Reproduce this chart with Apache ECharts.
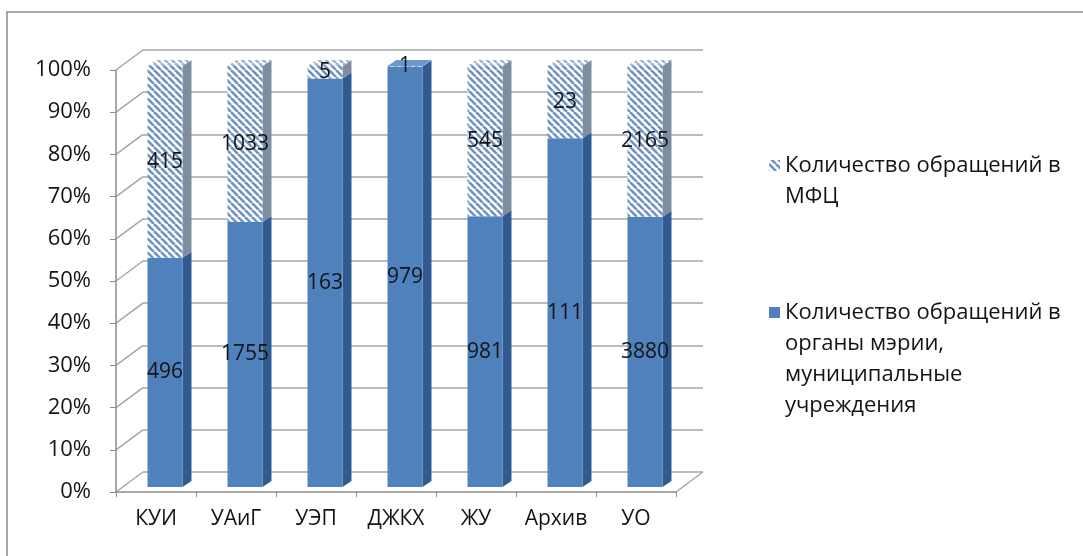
<!DOCTYPE html>
<html>
<head>
<meta charset="utf-8">
<script src="https://cdn.jsdelivr.net/npm/echarts@6/dist/echarts.min.js"></script>
<style>
  html, body { margin: 0; padding: 0; background: #fff; }
  #main { width: 1083px; height: 556px; }
</style>
</head>
<body>
<div id="main"></div>
<script>
var categories = ['КУИ', 'УАиГ', 'УЭП', 'ДЖКХ', 'ЖУ', 'Архив', 'УО'];
var mfcValues = [415, 1033, 5, 1, 545, 23, 2165];
var meriaValues = [496, 1755, 163, 979, 981, 111, 3880];
var yTicks = [0, 10, 20, 30, 40, 50, 60, 70, 80, 90, 100];

var nameMfc = 'Количество обращений в МФЦ';
var nameMeria = 'Количество обращений в органы мэрии, муниципальные учреждения';

// доли в процентах (100% стек)
var meriaPct = meriaValues.map(function (v, i) { return v / (v + mfcValues[i]) * 100; });
var mfcPct = mfcValues.map(function (v, i) { return v / (v + meriaValues[i]) * 100; });

// штриховка для МФЦ
function hatch(lineColor) {
    var c = document.createElement('canvas');
    c.width = 7; c.height = 7;
    var ctx = c.getContext('2d');
    ctx.fillStyle = '#ffffff';
    ctx.fillRect(0, 0, 7, 7);
    ctx.strokeStyle = lineColor;
    ctx.lineWidth = 2.6;
    [-7, 0, 7].forEach(function (o) {
        ctx.beginPath();
        ctx.moveTo(o, 0);
        ctx.lineTo(o + 7, 7);
        ctx.stroke();
    });
    return c;
}
var hatchFront = { image: hatch('#6f93c0'), repeat: 'repeat' };
var hatchTop = { image: hatch('#9db3cf'), repeat: 'repeat' };

var BAR_W = 35, DEPTH_X = 9, DEPTH_Y = -6;
var FRONT_LEFT = 116, FRONT_RIGHT = 676, BACK_DX = 27, BACK_DY = -20;
var textColor = '#141414';
var fontFam = '"Open Sans", "Noto Sans", sans-serif';
var LINE_H = 31;

// значок легенды: квадрат на уровне первой строки текста
function legendIcon(lines) {
    var h = lines * LINE_H;
    var c = LINE_H / 2;
    return 'path://M0,0L0.01,0M0,' + h + 'L0.01,' + h +
        'M0,' + (c - 5.5) + 'L11,' + (c - 5.5) + 'L11,' + (c + 5.5) + 'L0,' + (c + 5.5) + 'Z';
}

function renderSide(params, api) {
    var i = api.value(0);
    var low = api.value(1);
    var p0 = api.coord([i, 0]);
    var p1 = api.coord([i, low]);
    var p2 = api.coord([i, 100]);
    var hw = BAR_W / 2;
    var xr = p0[0] + hw;
    var xl = p0[0] - hw;
    var topColor = mfcPct[i] < 0.5 ? '#6d98cf' : hatchTop;
    return {
        type: 'group',
        children: [
            { type: 'polygon', shape: { points: [[xr, p1[1]], [xr + DEPTH_X, p1[1] + DEPTH_Y], [xr + DEPTH_X, p0[1] + DEPTH_Y], [xr, p0[1]]] },
              style: { fill: '#2f5b92' } },
            { type: 'polygon', shape: { points: [[xr, p2[1]], [xr + DEPTH_X, p2[1] + DEPTH_Y], [xr + DEPTH_X, p1[1] + DEPTH_Y], [xr, p1[1]]] },
              style: { fill: '#7f8da0' } },
            { type: 'polygon', shape: { points: [[xl, p2[1]], [xl + DEPTH_X, p2[1] + DEPTH_Y], [xr + DEPTH_X, p2[1] + DEPTH_Y], [xr, p2[1]]] },
              style: { fill: topColor } }
        ]
    };
}

var option = {
    animation: false,
    backgroundColor: '#ffffff',
    textStyle: { fontFamily: fontFam },
    grid: [
        // задняя стенка
        { left: FRONT_LEFT + BACK_DX, right: 1083 - FRONT_RIGHT - BACK_DX, top: 50, bottom: 84 },
        // передние оси
        { left: FRONT_LEFT, right: 1083 - FRONT_RIGHT, top: 70, bottom: 64 },
        // столбцы
        { left: 125, right: 398, top: 66, bottom: 69 }
    ],
    xAxis: [
        { gridIndex: 0, type: 'category', data: categories, show: false },
        { gridIndex: 1, type: 'category', data: categories,
          axisLine: { lineStyle: { color: '#8c8c8c', width: 1.5 } },
          axisTick: { show: true, length: 5, lineStyle: { color: '#8c8c8c' } },
          axisLabel: { interval: 0, color: textColor, fontSize: 21, margin: 17, fontFamily: fontFam } },
        { gridIndex: 2, type: 'category', data: categories, show: false }
    ],
    yAxis: [
        { gridIndex: 0, type: 'value', min: 0, max: 100, interval: 10,
          axisLine: { show: false }, axisTick: { show: false }, axisLabel: { show: false },
          splitLine: { lineStyle: { color: '#a6a6a6', width: 1.5 } } },
        { gridIndex: 1, type: 'value', min: 0, max: 100, interval: 10,
          axisLine: { show: true, lineStyle: { color: '#8c8c8c', width: 1.5 } },
          axisTick: { show: true, length: 6, lineStyle: { color: '#8c8c8c' } },
          splitLine: { show: false },
          axisLabel: { color: textColor, fontSize: 22, margin: 25, formatter: '{value}%', fontFamily: fontFam } },
        { gridIndex: 2, type: 'value', min: 0, max: 100, show: false, splitLine: { show: false } }
    ],
    legend: [
        { left: 769, top: 150, orient: 'vertical', padding: 0, itemWidth: 11, itemHeight: 2 * LINE_H,
          icon: legendIcon(2),
          data: [nameMfc],
          formatter: function () { return 'Количество обращений в\nМФЦ'; },
          textStyle: { color: textColor, fontSize: 22, lineHeight: LINE_H, fontFamily: fontFam } },
        { left: 769, top: 297, orient: 'vertical', padding: 0, itemWidth: 11, itemHeight: 4 * LINE_H,
          icon: legendIcon(4),
          data: [nameMeria],
          formatter: function () { return 'Количество обращений в\nорганы мэрии,\nмуниципальные\nучреждения'; },
          textStyle: { color: textColor, fontSize: 22, lineHeight: LINE_H, fontFamily: fontFam } }
    ],
    series: [
        { name: nameMeria, type: 'bar', stack: 'total', xAxisIndex: 2, yAxisIndex: 2, barWidth: BAR_W, z: 3,
          itemStyle: { color: '#4f81bd' },
          label: { show: true, position: 'inside', color: textColor, fontSize: 21, fontFamily: fontFam,
                   formatter: function (p) { return meriaValues[p.dataIndex]; } },
          data: meriaPct },
        { name: nameMfc, type: 'bar', stack: 'total', xAxisIndex: 2, yAxisIndex: 2, barWidth: BAR_W, z: 3,
          itemStyle: { color: hatchFront },
          label: { show: true, position: 'inside', color: textColor, fontSize: 21, fontFamily: fontFam,
                   formatter: function (p) { return mfcValues[p.dataIndex]; } },
          data: mfcPct },
        { type: 'custom', xAxisIndex: 2, yAxisIndex: 2, z: 2, silent: true,
          renderItem: renderSide, encode: { x: 0, y: 1 },
          data: categories.map(function (c, i) { return [i, meriaPct[i]]; }) }
    ]
};

var chart = echarts.init(document.getElementById('main'));
chart.setOption(option);

// рамка и наклонные линии 3D-стенок
var gfx = [
    { type: 'rect', shape: { x: 7, y: 12, width: 1200, height: 700 }, style: { fill: 'none', stroke: '#8c8c8c', lineWidth: 1.5 }, silent: true }
];
yTicks.forEach(function (v) {
    var yf = chart.convertToPixel({ yAxisIndex: 1 }, v);
    var yb = chart.convertToPixel({ yAxisIndex: 0 }, v);
    gfx.push({ type: 'line', shape: { x1: FRONT_LEFT, y1: yf, x2: FRONT_LEFT + BACK_DX, y2: yb },
               style: { stroke: '#a6a6a6', lineWidth: 1.5 }, silent: true });
});
var yf0 = chart.convertToPixel({ yAxisIndex: 1 }, 0);
var yb0 = chart.convertToPixel({ yAxisIndex: 0 }, 0);
gfx.push({ type: 'line', shape: { x1: FRONT_RIGHT, y1: yf0, x2: FRONT_RIGHT + BACK_DX, y2: yb0 },
           style: { stroke: '#a6a6a6', lineWidth: 1.5 }, silent: true });
chart.setOption({ graphic: gfx });
</script>
</body>
</html>
